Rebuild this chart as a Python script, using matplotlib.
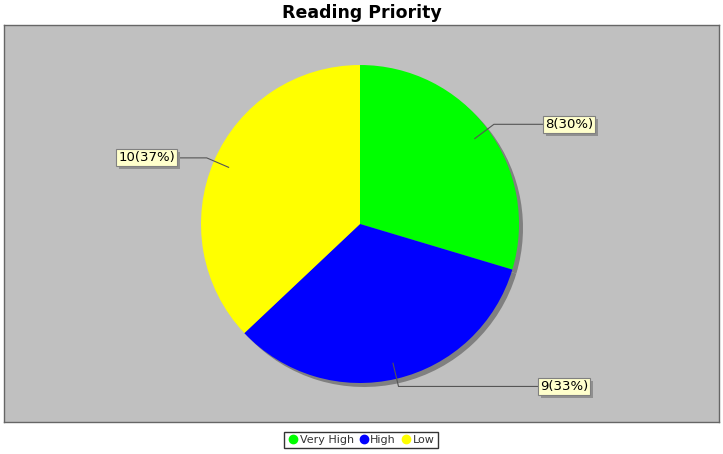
import numpy as np
import matplotlib.pyplot as plt
import matplotlib.patheffects as pe
from matplotlib.lines import Line2D

# data
categories = ['Very High', 'High', 'Low']
counts = [8, 9, 10]
colors = ['#00FF00', '#0000FF', '#FFFF00']

W, H = 723, 454
fig = plt.figure(figsize=(W / 100, H / 100), dpi=100)
fig.patch.set_facecolor('white')

# plot area in pixel units
left, top, right, bottom = 4, 25, 719, 422
ax = fig.add_axes([left / W, 1 - bottom / H, (right - left) / W, (bottom - top) / H])
ax.set_facecolor('#C0C0C0')
for s in ax.spines.values():
    s.set_color('#666666')
    s.set_linewidth(1)

cx, cy, r = 360, H - 224, 159

# shadow
ax.pie(counts, colors=['#808080'] * 3, startangle=90, counterclock=False,
       center=(cx + 4, cy - 4), radius=r, frame=True,
       wedgeprops=dict(linewidth=0))
ax.pie(counts, colors=colors, startangle=90, counterclock=False,
       center=(cx, cy), radius=r, frame=True,
       wedgeprops=dict(linewidth=0))

ax.set_xlim(left, right)
ax.set_ylim(H - bottom, H - top)
ax.set_aspect('auto')
ax.set_xticks([])
ax.set_yticks([])

# labels with link lines
total = sum(counts)
label_x = [543, 538, 177]   # box edge nearest the pie
cum = 0
for i, v in enumerate(counts):
    mid = 90 - (cum + v / 2) / total * 360
    cum += v
    a = np.deg2rad(mid)
    x0, y0 = cx + 0.9 * r * np.cos(a), cy + 0.9 * r * np.sin(a)
    x1, y1 = cx + 1.05 * r * np.cos(a), cy + 1.05 * r * np.sin(a)
    lx = label_x[i]
    ax.plot([x0, x1, lx], [y0, y1, y1], color='#555555', lw=0.8)
    pct = round(v / total * 100)
    ha = 'left' if np.cos(a) > 0 else 'right'
    t = ax.text(lx + (2 if ha == 'left' else -2), y1, f'{v}({pct}%)', ha=ha, va='center',
                fontsize=9.5, color='black',
                bbox=dict(boxstyle='square,pad=0.15', fc='#FFFFCC', ec='#808080', lw=0.8))
    t.get_bbox_patch().set_path_effects([
        pe.SimplePatchShadow(offset=(2, -2), shadow_rgbFace='#909090', alpha=1), pe.Normal()])

fig.suptitle('Reading Priority', y=1 - 13 / H, va='center', fontsize=12.5, fontweight='bold')

handles = [Line2D([], [], marker='o', ls='none', color=c, markersize=6) for c in colors]
leg = fig.legend(handles, categories, loc='center', bbox_to_anchor=(361 / W, 1 - 440 / H),
                 ncol=3, fontsize=8, frameon=True, fancybox=False, handletextpad=0.1,
                 columnspacing=0.4, handlelength=1, borderpad=0.3, labelcolor='#333333')
leg.get_frame().set_edgecolor('black')
leg.get_frame().set_linewidth(1)

fig.savefig('out.png', dpi=100)
